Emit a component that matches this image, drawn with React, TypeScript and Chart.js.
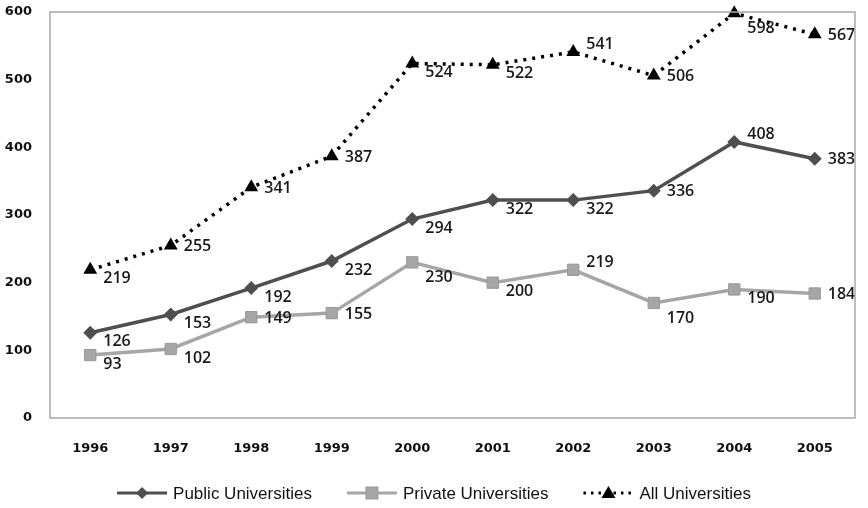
import React, { useEffect, useRef } from "react";
import { Chart, registerables } from "chart.js";

Chart.register(...registerables);

const categories = ["1996", "1997", "1998", "1999", "2000", "2001", "2002", "2003", "2004", "2005"];
const publicValues = [126, 153, 192, 232, 294, 322, 322, 336, 408, 383];
const privateValues = [93, 102, 149, 155, 230, 200, 219, 170, 190, 184];
const allValues = [219, 255, 341, 387, 524, 522, 541, 506, 598, 567];
const seriesNames = ["Public Universities", "Private Universities", "All Universities"];
const yTicks = [0, 100, 200, 300, 400, 500, 600];

// label placement codes: r = right, b = right-below, a = right-above, B = further below
const publicPlace = ["b", "b", "b", "b", "b", "b", "b", "r", "a", "r"];
const privatePlace = ["b", "b", "r", "r", "B", "b", "a", "B", "b", "r"];
const allPlace = ["b", "r", "r", "r", "b", "b", "a", "r", "B", "r"];

const PUBLIC_COLOR = "#4f4f4f";
const PRIVATE_COLOR = "#a6a6a6";
const ALL_COLOR = "#000000";

const placeDy: Record<string, number> = { r: 1, b: 9, a: -7, B: 15 };

const labelPlugin = {
  id: "valueLabels",
  afterDatasetsDraw(chart: any) {
    const ctx = chart.ctx;
    const places = [publicPlace, privatePlace, allPlace];
    ctx.save();
    ctx.font = "600 16px 'Open Sans'";
    ctx.fillStyle = "#1a1a1a";
    ctx.textAlign = "left";
    ctx.textBaseline = "middle";
    chart.data.datasets.forEach((ds: any, i: number) => {
      const meta = chart.getDatasetMeta(i);
      meta.data.forEach((pt: any, j: number) => {
        const dy = placeDy[places[i][j]];
        ctx.fillText(String(ds.data[j]), pt.x + 13, pt.y + dy);
      });
    });
    ctx.restore();
  },
};

const framePlugin = {
  id: "frame",
  afterDraw(chart: any) {
    const { ctx, chartArea } = chart;
    ctx.save();
    ctx.strokeStyle = "#a8a8a8";
    ctx.lineWidth = 1.5;
    ctx.strokeRect(chartArea.left, chartArea.top, chartArea.right - chartArea.left, chartArea.bottom - chartArea.top);
    ctx.restore();
  },
};

function drawMarker(ctx: CanvasRenderingContext2D, kind: number, x: number, y: number) {
  ctx.beginPath();
  if (kind === 0) {
    ctx.fillStyle = PUBLIC_COLOR;
    const r = 6;
    ctx.moveTo(x, y - r);
    ctx.lineTo(x + r, y);
    ctx.lineTo(x, y + r);
    ctx.lineTo(x - r, y);
    ctx.closePath();
    ctx.fill();
  } else if (kind === 1) {
    ctx.fillStyle = PRIVATE_COLOR;
    ctx.fillRect(x - 6, y - 6, 12, 12);
    ctx.strokeStyle = "#999";
    ctx.lineWidth = 1;
    ctx.strokeRect(x - 6, y - 6, 12, 12);
  } else {
    ctx.fillStyle = ALL_COLOR;
    ctx.moveTo(x, y - 7);
    ctx.lineTo(x + 7, y + 5);
    ctx.lineTo(x - 7, y + 5);
    ctx.closePath();
    ctx.fill();
  }
}

const legendPlugin = {
  id: "customLegend",
  afterDraw(chart: any) {
    const ctx = chart.ctx;
    const y = 493;
    const lineLen = 50;
    const textGap = 6;
    const itemGap = 35;
    ctx.save();
    ctx.font = "17px 'Liberation Sans'";
    const widths = seriesNames.map((n) => ctx.measureText(n).width);
    const total = widths.reduce((a, w) => a + lineLen + textGap + w, 0) + itemGap * (seriesNames.length - 1);
    let x = chart.width / 2 - total / 2;
    const colors = [PUBLIC_COLOR, PRIVATE_COLOR, ALL_COLOR];
    seriesNames.forEach((name, i) => {
      ctx.beginPath();
      ctx.strokeStyle = colors[i];
      ctx.lineWidth = 3;
      if (i === 2) {
        ctx.setLineDash([2.5, 5]);
      } else {
        ctx.setLineDash([]);
      }
      ctx.moveTo(x, y);
      ctx.lineTo(x + lineLen, y);
      ctx.stroke();
      ctx.setLineDash([]);
      drawMarker(ctx, i, x + lineLen / 2, y);
      ctx.fillStyle = "#111";
      ctx.textAlign = "left";
      ctx.textBaseline = "middle";
      ctx.fillText(name, x + lineLen + textGap, y + 1);
      x += lineLen + textGap + widths[i] + itemGap;
    });
    ctx.restore();
  },
};

export default function App() {
  const ref = useRef<HTMLCanvasElement | null>(null);

  useEffect(() => {
    document.body.style.margin = "0";
    if (!ref.current) return;
    const chart = new Chart(ref.current, {
      type: "line",
      data: {
        labels: categories,
        datasets: [
          {
            label: seriesNames[0],
            data: publicValues,
            borderColor: PUBLIC_COLOR,
            backgroundColor: PUBLIC_COLOR,
            borderWidth: 3.5,
            pointStyle: "rectRot",
            pointRadius: 7,
            pointBorderWidth: 0,
            tension: 0,
            clip: false,
          },
          {
            label: seriesNames[1],
            data: privateValues,
            borderColor: PRIVATE_COLOR,
            backgroundColor: PRIVATE_COLOR,
            pointBorderColor: "#999999",
            borderWidth: 3.5,
            pointStyle: "rect",
            pointRadius: 8,
            pointBorderWidth: 1,
            tension: 0,
            clip: false,
          },
          {
            label: seriesNames[2],
            data: allValues,
            borderColor: ALL_COLOR,
            backgroundColor: ALL_COLOR,
            borderWidth: 3.5,
            borderDash: [3, 6],
            pointStyle: "triangle",
            pointRadius: 8,
            pointBorderWidth: 0,
            tension: 0,
            clip: false,
          },
        ],
      } as any,
      options: {
        animation: false,
        responsive: false,
        maintainAspectRatio: false,
        layout: { padding: { top: 12, right: 13, left: 0, bottom: 0 } },
        plugins: {
          legend: { display: false },
          tooltip: { enabled: false },
        },
        scales: {
          x: {
            offset: true,
            grid: { display: false, drawTicks: false },
            border: { display: false },
            ticks: {
              padding: 23,
              color: "#111",
              font: { family: "'DejaVu Sans'", weight: "bold", size: 13 },
              maxRotation: 0,
            },
            afterFit(scale: any) {
              scale.height = 90;
            },
          },
          y: {
            min: 0,
            max: 600,
            grid: { display: false, drawTicks: false },
            border: { display: false },
            afterBuildTicks(scale: any) {
              scale.ticks = yTicks.map((v) => ({ value: v }));
            },
            ticks: {
              padding: 18,
              color: "#111",
              font: { family: "'DejaVu Sans'", weight: "bold", size: 13 },
            },
            afterFit(scale: any) {
              scale.width = 50;
              scale.paddingTop = 0;
              scale.paddingBottom = 0;
            },
          },
        },
      } as any,
      plugins: [labelPlugin, framePlugin, legendPlugin],
    });
    return () => chart.destroy();
  }, []);

  return (
    <div style={{ width: 868, height: 508 }}>
      <canvas ref={ref} width={868} height={508} style={{ width: 868, height: 508, display: "block" }} />
    </div>
  );
}
